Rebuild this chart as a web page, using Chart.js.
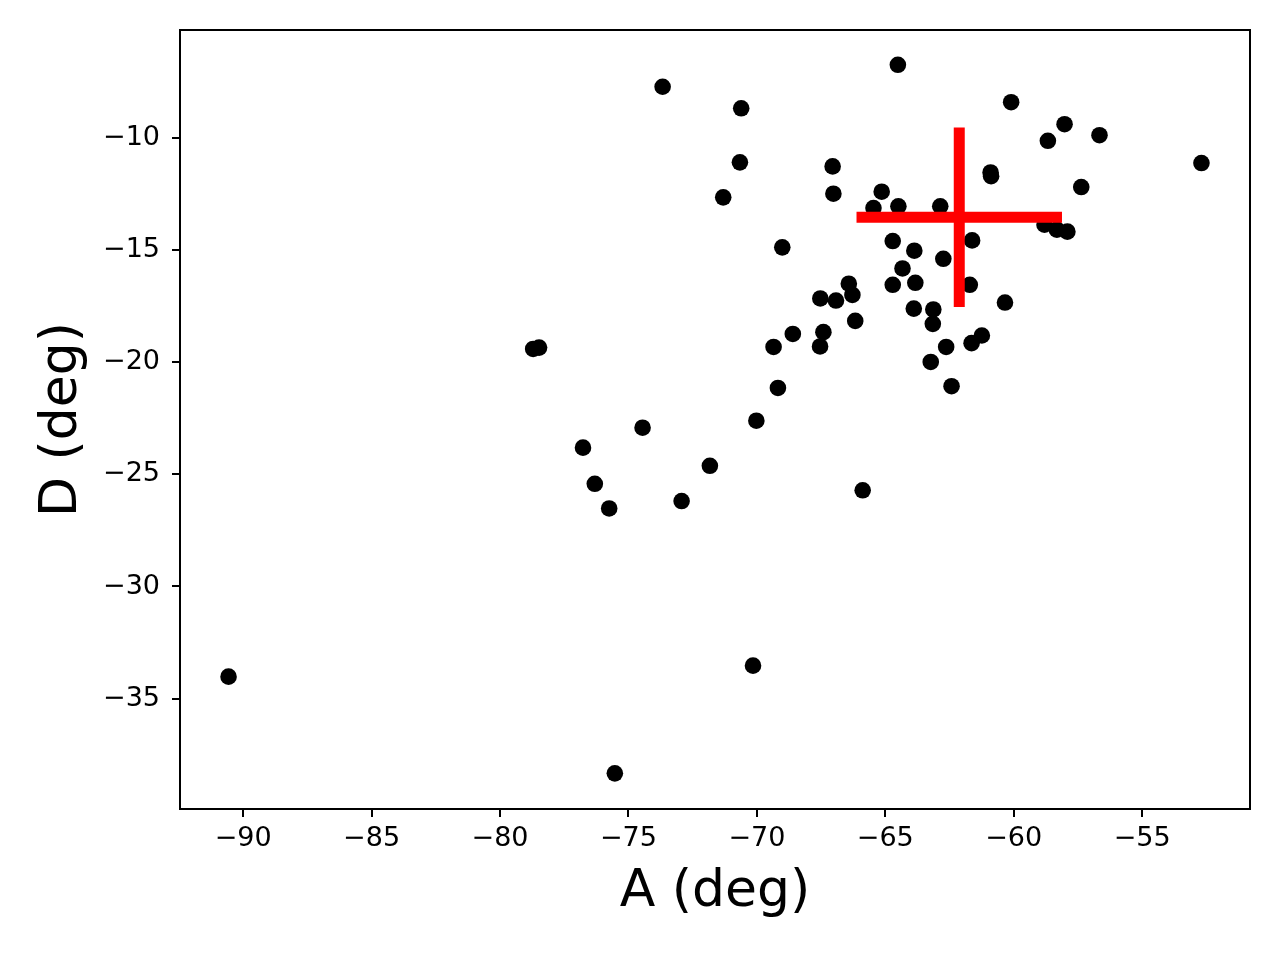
<!DOCTYPE html>
<html>
<head>
<meta charset="utf-8">
<script src="https://cdn.jsdelivr.net/npm/chart.js@4.4.0/dist/chart.umd.min.js"></script>
<style>
    body { margin: 0; background: #fff; }
    #wrap { width: 1280px; height: 960px; }
</style>
</head>
<body>
<div id="wrap"><canvas id="chart_ad" width="1280" height="960"></canvas></div>
<script>
// values
const aValues = [-73.67, -70.61, -70.66, -71.31, -67.05, -67.02, -69.01, -64.51, -60.10, -58.02,
    -58.67, -56.66, -52.69, -60.90, -60.88, -57.37, -65.14, -65.46, -64.49, -62.86,
    -58.80, -58.32, -57.91, -64.71, -61.62, -63.87, -62.74, -64.33, -66.42, -66.28,
    -67.53, -66.92, -64.71, -63.83, -61.71, -60.34, -66.17, -63.89, -63.13, -63.15,
    -68.60, -67.41, -67.54, -69.35, -78.71, -78.48, -69.18, -70.02, -74.45, -76.77,
    -71.83, -76.31, -75.75, -72.93, -65.88, -61.24, -61.64, -62.63, -63.23, -62.42,
    -90.57, -70.15, -75.53];
const dValues = [-7.72, -8.68, -11.09, -12.65, -11.27, -12.49, -14.88, -6.74, -8.41, -9.39,
    -10.13, -9.88, -11.12, -11.54, -11.71, -12.19, -12.40, -13.13, -13.05, -13.05,
    -13.87, -14.09, -14.18, -14.60, -14.57, -15.03, -15.39, -15.82, -16.50, -17.00,
    -17.16, -17.25, -16.55, -16.46, -16.55, -17.34, -18.16, -17.61, -17.65, -18.29,
    -18.74, -18.66, -19.30, -19.32, -19.41, -19.35, -21.15, -22.61, -22.92, -23.81,
    -24.62, -25.42, -26.52, -26.19, -25.71, -18.81, -19.15, -19.32, -19.99, -21.07,
    -34.02, -33.53, -38.33];

const crossCenter = [-62.12, -13.54];
const crossHalf = 4;

const xTicks = [-90, -85, -80, -75, -70, -65, -60, -55];
const yTicks = [-35, -30, -25, -20, -15, -10];
const xRange = [-92.46, -50.80];
const yRange = [-39.92, -5.19];

function minusLabel(v) {
    return (v < 0 ? '\u2212' : '') + Math.abs(v);
}

// matplotlib-like box around the plot
const boxPlugin = {
    id: 'box',
    afterDraw(chart) {
        const a = chart.chartArea;
        const ctx = chart.ctx;
        ctx.save();
        ctx.strokeStyle = '#000';
        ctx.lineWidth = 2;
        ctx.strokeRect(a.left, a.top, a.right - a.left, a.bottom - a.top);
        ctx.restore();
    }
};

let points = [];
for (let i = 0; i < aValues.length; i++) {
    points.push({x: aValues[i], y: dValues[i]});
}

const cx = crossCenter[0], cy = crossCenter[1];
const tickFont = {family: 'DejaVu Sans', size: 27};
const titleFont = {family: "'Comic Sans MS', 'DejaVu Sans'", size: 52, lineHeight: 1.2};

new Chart(document.getElementById('chart_ad'), {
    type: 'scatter',
    data: {
        datasets: [{
            data: points,
            backgroundColor: '#000',
            borderWidth: 0,
            pointRadius: 8.3,
            order: 2
        }, {
            type: 'line',
            data: [{x: cx - crossHalf, y: cy}, {x: cx + crossHalf, y: cy}],
            borderColor: '#ff0000',
            borderWidth: 11,
            borderCapStyle: 'butt',
            pointRadius: 0,
            order: 0
        }, {
            type: 'line',
            data: [{x: cx, y: cy - crossHalf}, {x: cx, y: cy + crossHalf}],
            borderColor: '#ff0000',
            borderWidth: 11,
            borderCapStyle: 'butt',
            pointRadius: 0,
            order: 0
        }]
    },
    options: {
        responsive: false,
        animation: false,
        events: [],
        layout: {padding: {top: 30, right: 30, left: 0, bottom: 0}},
        plugins: {legend: {display: false}, tooltip: {enabled: false}},
        scales: {
            x: {
                type: 'linear',
                min: xRange[0],
                max: xRange[1],
                afterBuildTicks: function(scale) {
                    scale.ticks = xTicks.map(v => ({value: v}));
                },
                afterFit: function(scale) { scale.height = 151; },
                grid: {drawOnChartArea: false, drawTicks: true, tickLength: 8, color: '#000', lineWidth: 2},
                border: {display: false},
                ticks: {color: '#000', font: tickFont, padding: 6, maxRotation: 0, callback: minusLabel},
                title: {display: true, text: 'A (deg)', color: '#000', font: titleFont, padding: {top: 0, bottom: 36}}
            },
            y: {
                type: 'linear',
                min: yRange[0],
                max: yRange[1],
                afterBuildTicks: function(scale) {
                    scale.ticks = yTicks.map(v => ({value: v}));
                },
                afterFit: function(scale) { scale.width = 180; },
                grid: {drawOnChartArea: false, drawTicks: true, tickLength: 8, color: '#000', lineWidth: 2},
                border: {display: false},
                ticks: {color: '#000', font: tickFont, padding: 12, callback: minusLabel},
                title: {display: true, text: 'D (deg)', color: '#000', font: titleFont, padding: {top: 31, bottom: 0}}
            }
        }
    },
    plugins: [boxPlugin]
});
</script>
</body>
</html>
